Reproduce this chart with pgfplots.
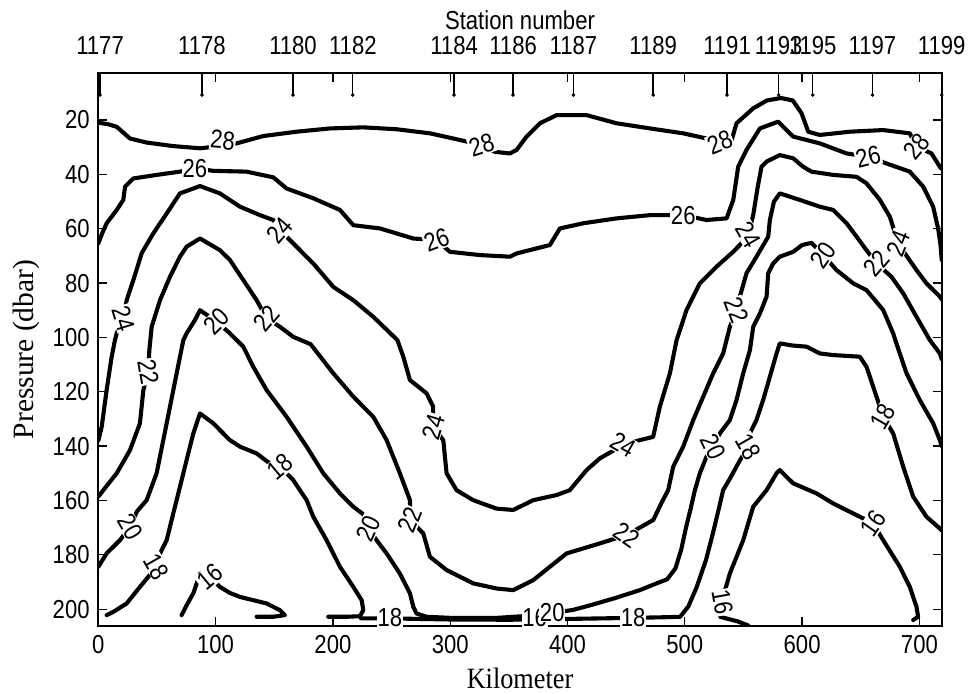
\documentclass[border=0pt]{standalone}
\usepackage{fontspec}
\usepackage{pgfplots}
\pgfplotsset{compat=1.18}
\setmainfont{Liberation Serif}
\newfontfamily\sansnarrow{Liberation Sans}[FakeStretch=0.85]
\newfontfamily\serifnarrow{Liberation Serif}[FakeStretch=0.89]
\newcommand\tickfont{\fontsize{26bp}{30bp}\sansnarrow}
\newcommand\labfont{\fontsize{29.5bp}{34bp}\serifnarrow}
\newcommand\ylabfont{\fontsize{29.5bp}{34bp}\rmfamily}

\pgfplotsset{
  isoline/.style={black, line width=4.1bp, line join=round, line cap=round, mark=none},
}
\tikzset{clab/.style={font=\tickfont, fill=white, inner sep=0.8bp}}

\begin{document}
\begin{tikzpicture}
\begin{axis}[
  at={(0,0)}, anchor=south west,
  scale only axis, width=843.4bp, height=553bp,
  xmin=0, xmax=719, ymin=2.7, ymax=206.2, y dir=reverse,
  xtick={0,100,...,700}, ytick={20,40,...,200},
  tick align=inside, major tick length=9bp,
  tick style={black, line width=1.3bp},
  axis line style={line width=2bp},
  /pgf/number format/assume math mode=true,
  tick label style={font=\tickfont},
  xticklabel style={anchor=north, inner sep=0pt, yshift=-9bp},
  yticklabel style={anchor=east, inner sep=0pt, xshift=-8.5bp},
  xlabel={Kilometer}, ylabel={Pressure (dbar)},
  xlabel style={at={(axis description cs:0.5,-0.1121)}, anchor=base, font=\labfont},
  ylabel style={at={(axis description cs:-0.0774,0.5)}, anchor=base, font=\ylabfont},
]
% 28
\addplot[isoline] coordinates {(0,21) (8,21.5) (15.7,22.5) (27,26.8) (41.2,28.3) (63.9,29.6) (86.7,30.4) (106,29.5) (117.9,28.6) (140.6,25.9) (169,24.3) (197.5,23.1) (225.9,22.7) (254.3,23.4) (282.7,24.9) (302.6,26.8) (326.7,29.2) (338,31.7) (350.9,32.3) (356.6,31.0) (365.1,26.1) (376.5,21.2) (390.7,18.2) (416.3,18.2) (441.8,21.2) (470.3,23.1) (498.7,24.9) (518.5,26.8) (529.9,28.2) (539.9,27.4) (544.1,21.2) (558.3,15.7) (570,12.8) (582,11.9) (592,12.8) (599.5,17.5) (605.2,24.3) (615.1,25.5) (640.7,24.3) (669.1,23.7) (691.8,24.9) (697.5,29.8) (710.3,32.3) (717.4,37.2) (719,38)};
% 26
\addplot[isoline] coordinates {(0,65.4) (3.5,61.5) (7.1,58) (15.7,53.1) (21.3,49.4) (22.8,44.5) (29.9,41.5) (49.7,40.2) (69.6,39) (82.4,37.8) (98,38.7) (126.4,39) (149.2,41.1) (160.5,45.2) (183.3,48.8) (206,53.1) (217.4,58.7) (240.1,59.9) (268.5,63.6) (288.4,64.2) (299.7,68.5) (325.3,69.7) (350.9,70.3) (356.6,69.1) (385,66) (393.5,59.9) (413.4,58) (441.8,56.2) (470.3,55) (498.7,55) (518.5,56.8) (535.6,56.2) (541.3,49.4) (545.5,37.2) (552.6,31.0) (564,23.1) (579.6,20.6) (592.4,26.1) (615.1,28.6) (637.9,32.3) (656.3,33.5) (672,36) (691.8,39) (703.2,44.5) (711.7,51.9) (716,60) (718,66) (719,71.5)};
% 24
\addplot[isoline] coordinates {(0,138) (2.9,132.9) (7.1,119.4) (11.4,107.1) (14.2,101) (15.7,98.5) (21.3,93) (24.2,86.3) (29.9,78.9) (37,69) (46.9,61.7) (58.3,54.4) (69.6,47) (86.7,44.3) (103.7,47) (120.8,51.9) (137.8,55) (149.2,56.8) (154.9,60.5) (166.2,65.4) (183.3,72.8) (200.3,81.4) (217.4,86.3) (234.4,92.4) (255,101) (260,107.1) (265.7,115.7) (279.9,120.6) (285.5,125.5) (285.5,132.9) (294.1,137.8) (296.9,150) (305.4,156.2) (319.6,159.9) (339.5,163) (353.7,163.5) (370.8,159.9) (390.7,158) (402,156.2) (416.3,148.8) (427.6,144.5) (447.5,139.6) (461.7,137.8) (473,136.6) (478.7,125.5) (487.3,113.2) (493,101) (501.5,89.9) (512.8,80.1) (527,74) (541.2,68.5) (546.9,66) (554,62.3) (558.3,55) (562,45) (565.4,37.2) (569.7,35.3) (581,32.9) (592.4,34.1) (600.9,37.2) (608,39) (626.5,40.2) (646.4,40.9) (654.9,43.3) (666.3,49.4) (674.8,55.6) (681.9,65.4) (687.6,69.1) (697.5,75.2) (706,80.1) (717.4,85) (719,86)};
% 22
\addplot[isoline] coordinates {(0,158.6) (4.3,156.2) (15.7,150) (27,141.5) (35.5,131.6) (38.4,119.4) (42.6,112.6) (43.5,104.7) (45.5,96.1) (52.6,86.3) (61.1,77.7) (69.6,70.3) (75.3,66.6) (86.7,63.6) (103.7,67.9) (112.2,71.5) (123.6,78.9) (135,86.3) (143.5,93) (154.9,96.1) (166.2,99.8) (181,102.5) (200.3,113.2) (217.4,121.8) (234.4,129.2) (245.8,137.8) (257.1,150) (265.7,159.9) (265.7,167.2) (277,172.1) (282.7,180.7) (296.9,185.6) (319.6,190.5) (339.5,192.4) (353.7,193) (370.8,189.3) (399.2,179.5) (427.6,175.8) (450.4,172.7) (473.1,167.2) (480,161) (485.8,156.2) (490.1,147.6) (498.6,140.2) (507.2,130.4) (515.7,121.8) (524.2,113.2) (532.7,105.9) (538.4,96.1) (544.1,90) (546.9,85) (552.6,76.4) (561.1,70.3) (571.1,62.9) (572.5,56.8) (576,50) (581,47) (598,49.4) (615.1,51.9) (626.5,53.1) (637.9,58) (646.4,62.9) (654.9,67.9) (663.4,72.8) (676.2,77.7) (686.2,83.8) (697.5,92.4) (708.9,101) (717.4,105.9) (719,108)};
% 20
\addplot[isoline] coordinates {(0,184.4) (7.1,179.5) (18.5,174.6) (27,169.7) (33,164) (41.2,159.9) (49.7,150) (55.4,137.8) (61.1,125.5) (66.8,113.2) (72.5,101) (75.3,98.5) (82.4,93.6) (86.7,90) (100.9,94.2) (112.2,98.5) (123.6,103.4) (132.1,110.8) (143.5,119.4) (160.5,129.2) (177.6,140.2) (191.8,150) (206,157.4) (217.4,162.3) (228.7,166) (230.1,170.3) (237.2,174.6) (245.8,179.5) (257.1,186.9) (265.7,194.2) (268.5,199.1) (271.3,201.6) (280,202.8) (300,203.2) (340,203.2) (365,202.5) (385,201.5) (404.5,200.3) (420,198.5) (440,196) (461.7,193) (476,190.5) (485,189) (492,185) (497,178) (501,170) (505,163) (508.6,156.2) (512.8,150) (518.5,143.9) (524.2,140.2) (529.9,135.3) (538.4,130.4) (544.1,123) (549.8,113.2) (555.5,104.7) (558.3,96.1) (564,91.2) (569.7,85) (571.1,76.4) (575.3,72.8) (581,70.3) (592.4,68.5) (600,66) (608,65.2) (618,69.7) (629.3,75.2) (643.5,80.1) (654.9,82.6) (669.1,89.9) (677.6,98.5) (681,103) (689,113.2) (700.4,123.1) (711.7,131.6) (717.4,137.8) (719,140)};
% 18
\addplot[isoline] coordinates {(7.1,202.2) (12.8,201) (24.2,197.9) (35.5,191.8) (49.7,184.4) (52.6,179.5) (58.3,174.6) (63.9,164.8) (69.6,155) (75.3,145.1) (81,135.3) (86.7,128) (98,131.6) (112.2,137.8) (120.8,140.2) (135,142.7) (146.3,146.4) (154.9,147.6) (166.2,152.5) (177.6,159.9) (183.3,166) (194.6,174.6) (206,184.4) (217.4,191.8) (224.5,196.7) (225.9,200.4) (223,202.6) (211.7,202.8) (196,202.8)};
\addplot[isoline] coordinates {(224,203.4) (248.6,203.4) (300,203.8) (350,203.9) (400,203.6) (456,203.2) (480,203) (496,202.8) (503,199) (510,192) (518,182) (524,172) (529,163) (532.7,156.2) (538.4,152) (546,146) (554,140.2) (555.5,135.3) (561.1,130.4) (566.8,123) (572.5,114.5) (578.2,105.9) (581,102.2) (592,103) (603.8,103.4) (615.1,105.9) (626.5,106.5) (649.2,107.1) (654.9,110.8) (666.3,125.5) (669.1,129.2) (677.6,135.3) (686.2,147.6) (694.7,158.6) (706,166) (717.4,170.3) (719,171)};
% 16
\addplot[isoline] coordinates {(71,202.2) (76,198) (81,194.2) (86.7,186.9) (95.2,188.1) (103.7,191.8) (112,194) (120.8,195.5) (143.5,197.9) (154.9,200.4) (159.1,202.2) (149.2,202.8) (135,202.8)};
\addplot[isoline] coordinates {(554,206) (545,204.5) (530,202.8) (531,198) (538.4,186.9) (549.8,174.6) (558.3,162.3) (569.7,156.2) (578.2,150) (581,148.8) (592.4,153.7) (612.3,157.4) (626.5,161.1) (643.6,164.8) (654.9,167.2) (660.6,168.5) (669.1,174.6) (683.3,184.4) (691.8,191.8) (697.5,199.1) (698.9,202.8) (694.7,204)};
% contour labels
\node[clab, rotate=-5]  at (axis cs:106,27.4) {28};
\node[clab, rotate=18]  at (axis cs:326.7,29.2) {28};
\node[clab, rotate=22]  at (axis cs:529.9,28.2) {28};
\node[clab, rotate=50]  at (axis cs:697.5,29.8) {28};
\node[clab, rotate=0]   at (axis cs:82.4,37.8) {26};
\node[clab, rotate=20]  at (axis cs:288.4,64.2) {26};
\node[clab, rotate=0]   at (axis cs:498.7,55) {26};
\node[clab, rotate=14]  at (axis cs:656.3,33.5) {26};
\node[clab, rotate=-73] at (axis cs:21.3,93) {24};
\node[clab, rotate=49]  at (axis cs:154.9,60.5) {24};
\node[clab, rotate=73]  at (axis cs:285.5,132.9) {24};
\node[clab, rotate=-30] at (axis cs:447.5,139.6) {24};
\node[clab, rotate=-60] at (axis cs:554,62.3) {24};
\node[clab, rotate=68]  at (axis cs:681.9,65.4) {24};
\node[clab, rotate=-80] at (axis cs:42.6,112.6) {22};
\node[clab, rotate=50]  at (axis cs:143.5,93) {22};
\node[clab, rotate=68]  at (axis cs:265.7,167.2) {22};
\node[clab, rotate=-35] at (axis cs:450.4,172.7) {22};
\node[clab, rotate=-70] at (axis cs:544.1,90) {22};
\node[clab, rotate=50]  at (axis cs:663.4,72.8) {22};
\node[clab, rotate=-60] at (axis cs:27,169.7) {20};
\node[clab, rotate=45]  at (axis cs:100.9,94.2) {20};
\node[clab, rotate=65]  at (axis cs:230.1,170.3) {20};
\node[clab, rotate=0]   at (axis cs:372,203.2) {16};
\node[clab, rotate=0]   at (axis cs:387,201.2) {20};
\node[clab, rotate=-65] at (axis cs:524.2,140.2) {20};
\node[clab, rotate=55]  at (axis cs:618,69.7) {20};
\node[clab, rotate=-60] at (axis cs:49.7,184.4) {18};
\node[clab, rotate=40]  at (axis cs:154.9,147.6) {18};
\node[clab, rotate=0]   at (axis cs:248.6,203.1) {18};
\node[clab, rotate=0]   at (axis cs:456,203) {18};
\node[clab, rotate=-60] at (axis cs:554,140.2) {18};
\node[clab, rotate=60]  at (axis cs:669.1,129.2) {18};
\node[clab, rotate=40]  at (axis cs:95.2,188.1) {16};
\node[clab, rotate=-80] at (axis cs:532,197.5) {16};
\node[clab, rotate=55]  at (axis cs:660.6,168.5) {16};
\end{axis}
\begin{axis}[
  at={(0,0)}, anchor=south west,
  scale only axis, width=843.4bp, height=553bp,
  xmin=0, xmax=719, ymin=2.7, ymax=206.2, y dir=reverse,
  axis x line*=top, axis y line=none,
  axis line style={-, line width=2bp},
  xtick={1.5,88.4,166,217,303.3,353.6,405,473,536,580,609,660,719},
  xticklabels={1177,1178,1180,1182,1184,1186,1187,1189,1191,1193,1195,1197,1199},
  tick align=inside, major tick length=22bp,
  tick style={black, line width=1.3bp},
  tick label style={font=\tickfont},
  xticklabel style={anchor=south, inner sep=0pt, yshift=18bp},
  xlabel={Station number},
  xlabel style={at={(axis description cs:0.5,1.0778)}, anchor=base, font=\tickfont},
]
\addplot[only marks, mark=*, mark size=1.6bp, black] coordinates {(1.5,10.8) (88.4,10.8) (166,10.8) (217,10.8) (303.3,10.8) (353.6,10.8) (405,10.8) (473,10.8) (536,10.8) (580,10.8) (609,10.8) (660,10.8) (719,10.8)};
\end{axis}
\pgfresetboundingbox
\path (-98.3bp,-68bp) rectangle (874.7bp,626bp);
\end{tikzpicture}
\end{document}
